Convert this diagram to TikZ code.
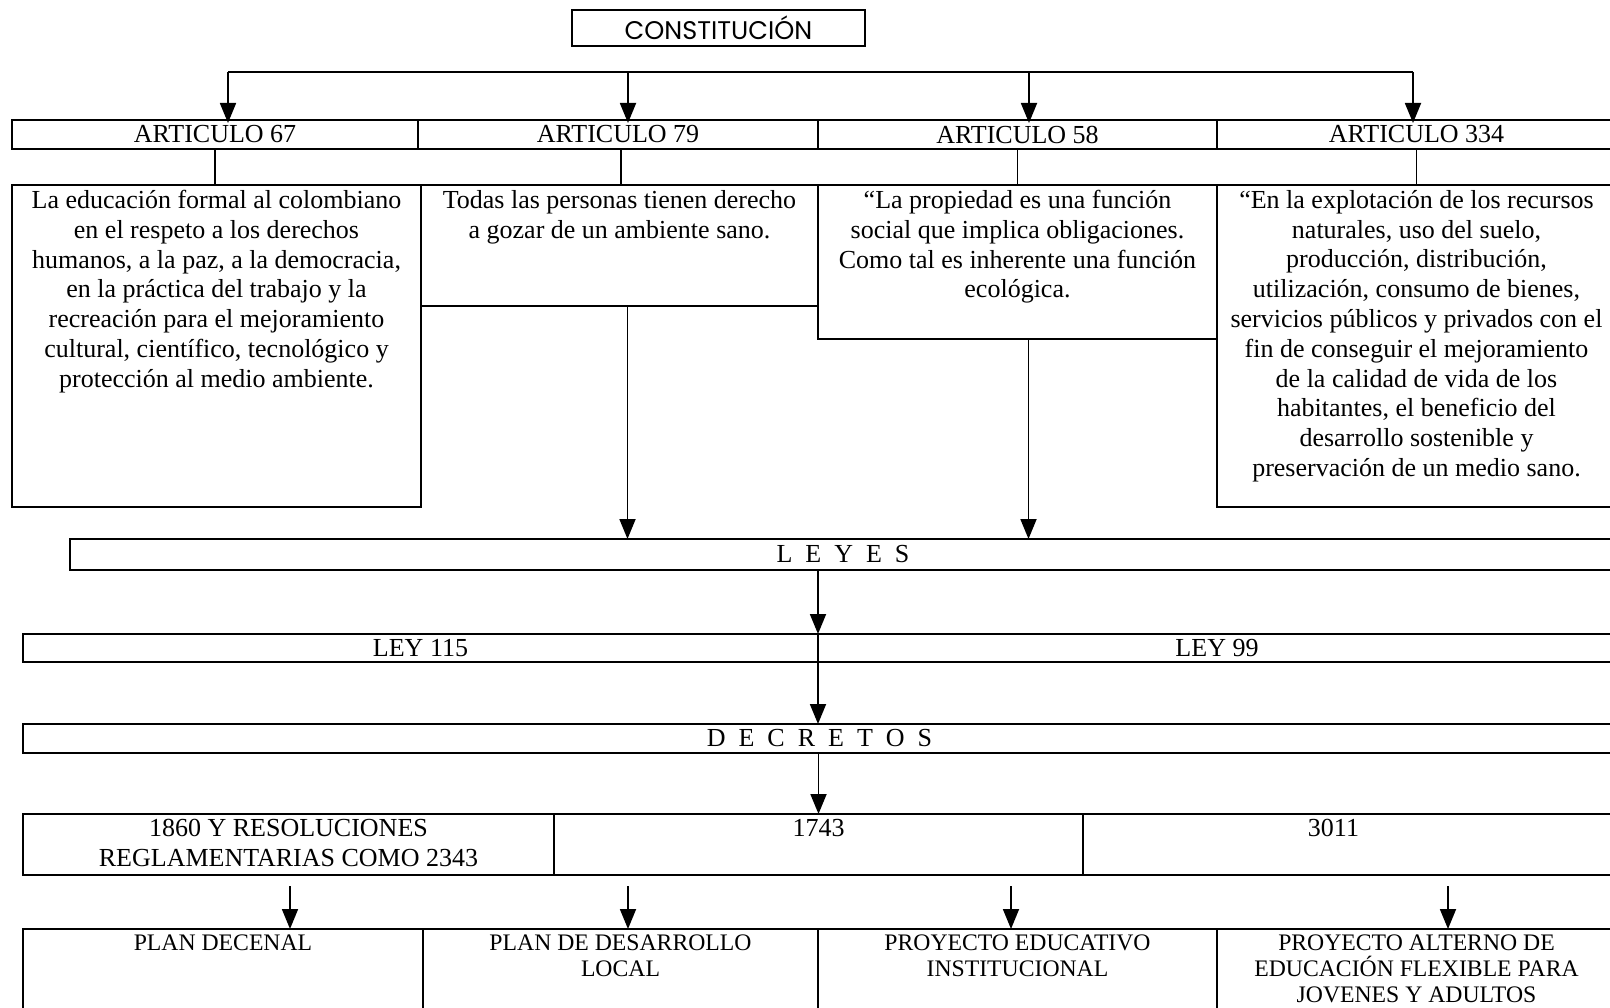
\documentclass[tikz,border=0pt]{standalone}
\usepackage{fontspec}
\setmainfont{Liberation Serif}
\newfontfamily\gothfont{Poppins}
\usetikzlibrary{positioning,arrows.meta}

\begin{document}
\begin{tikzpicture}[x=1pt, y=-1pt,
		cell/.style={draw, line width=1.8pt, inner sep=0pt, outer sep=0pt, anchor=north west, font=\fontsize{26}{29.8}\selectfont},
		txt/.style={align=center, inner sep=0pt, anchor=north, font=\fontsize{26}{29.8}\selectfont},
		captxt/.style={align=center, inner sep=0pt, anchor=north, font=\fontsize{23.7}{25.7}\selectfont},
		arr/.style={-{Triangle[width=16pt,length=20pt]}, line width=1.8pt},
		]
		\useasboundingbox (0,0) rectangle (1610,1008);
		\clip (0,0) rectangle (1610,1008);
		\fill[white] (0,0) rectangle (1610,1008);

		%Nodes
		\node[cell, minimum width=293pt, minimum height=36pt, font=\gothfont\fontsize{25.5}{28}\selectfont] (cons) at (572,10) {CONSTITUCIÓN};

		\node[cell, minimum width=406pt, minimum height=29pt]                     (a67)  at (12,120) {ARTICULO 67};
		\node[cell, minimum width=400pt, minimum height=29pt, right=0pt of a67]   (a79)  {ARTICULO 79};
		\node[cell, minimum width=399pt, minimum height=29pt, right=0pt of a79]   (a58)  {ARTICULO 58};
		\node[cell, minimum width=399pt, minimum height=29pt, right=0pt of a58]   (a334) {ARTICULO 334};

		\node[cell, minimum width=409pt, minimum height=322pt] (b67)  at (12,185) {};
		\node[cell, minimum width=397pt, minimum height=121pt] (b79)  at (b67.north east) {};
		\node[cell, minimum width=399pt, minimum height=154pt] (b58)  at (b79.north east) {};
		\node[cell, minimum width=399pt, minimum height=322pt] (b334) at (b58.north east) {};

		\node[txt] (t67) at ([yshift=-5pt]b67.north) {La educación formal al colombiano\\ en el respeto a los derechos\\ humanos, a la paz, a la democracia,\\ en la práctica del trabajo y la\\ recreación para el mejoramiento\\ cultural, científico, tecnológico y\\ protección al medio ambiente.};
		\node[txt] (t79) at ([yshift=-5pt]b79.north) {Todas las personas tienen derecho\\ a gozar de un ambiente sano.};
		\node[txt] (t58) at ([yshift=-5pt]b58.north) {“La propiedad es una función\\ social que implica obligaciones.\\ Como tal es inherente una función\\ ecológica.};
		\node[txt] (t334) at ([yshift=-5pt]b334.north) {“En la explotación de los recursos\\ naturales, uso del suelo,\\ producción, distribución,\\ utilización, consumo de bienes,\\ servicios públicos y privados con el\\ fin de conseguir el mejoramiento\\ de la calidad de vida de los\\ habitantes, el beneficio del\\ desarrollo sostenible y\\ preservación de un medio sano.};

		\node[cell, minimum width=1546pt, minimum height=31pt] (leyes) at (70,539) {L\ \ E\ \ Y\ \ E\ \ S};

		\node[cell, minimum width=795pt, minimum height=28pt]                      (ley115) at (23,634) {LEY 115};
		\node[cell, minimum width=798pt, minimum height=28pt, right=0pt of ley115] (ley99)  {LEY 99};

		\node[cell, minimum width=1593pt, minimum height=29pt] (decretos) at (23,724) {D\ \ E\ \ C\ \ R\ \ E\ \ T\ \ O\ \ S};

		\node[cell, minimum width=531pt, minimum height=61pt]                     (d1860) at (23,814) {};
		\node[cell, minimum width=529pt, minimum height=61pt, right=0pt of d1860] (d1743) {};
		\node[cell, minimum width=533pt, minimum height=61pt, right=0pt of d1743] (d3011) {};
		\node[txt] (t1860) at ([yshift=-5pt]d1860.north) {1860 Y RESOLUCIONES\\ REGLAMENTARIAS COMO 2343};
		\node[txt] (t1743) at ([yshift=-5pt]d1743.north) {1743};
		\node[txt] (t3011) at ([xshift=-16pt,yshift=-5pt]d3011.north) {3011};

		\node[cell, minimum width=400pt, minimum height=100pt] (plan) at (23,929) {};
		\node[cell, minimum width=395pt, minimum height=100pt] (pdl)  at (plan.north east) {};
		\node[cell, minimum width=399pt, minimum height=100pt] (pei)  at (pdl.north east) {};
		\node[cell, minimum width=399pt, minimum height=100pt] (pae)  at (pei.north east) {};
		\node[captxt] (tplan) at ([yshift=-6pt]plan.north) {PLAN DECENAL};
		\node[captxt] (tpdl)  at ([yshift=-6pt]pdl.north)  {PLAN DE DESARROLLO\\ LOCAL};
		\node[captxt] (tpei)  at ([yshift=-6pt]pei.north)  {PROYECTO EDUCATIVO\\ INSTITUCIONAL};
		\node[captxt] (tpae)  at ([yshift=-6pt]pae.north)  {PROYECTO ALTERNO DE\\ EDUCACIÓN FLEXIBLE PARA\\ JOVENES Y ADULTOS};

		\coordinate (bus67)  at (228,72);
		\coordinate (bus79)  at (628,72);
		\coordinate (bus58)  at (1029,72);
		\coordinate (bus334) at (1413,72);
		\coordinate (q1860)  at (290,886);
		\coordinate (q1743)  at (628,886);
		\coordinate (q2343)  at (1011,886);
		\coordinate (q3011)  at (1448,886);

		%Lines
		\draw[line width=1.8pt] (bus67) -- (bus334);
		\draw[arr, shorten >=-3pt] (bus67) -- (bus67 |- a67.north);
		\draw[arr, shorten >=-3pt] (bus79) -- (bus79 |- a79.north);
		\draw[arr, shorten >=-3pt] (bus58) -- (bus58 |- a58.north);
		\draw[arr, shorten >=-3pt] (bus334) -- (bus334 |- a334.north);

		\draw[line width=1.8pt] (a67.south) -- (a67.south |- b67.north);
		\draw[line width=1.8pt] ([xshift=3pt]a79.south) -- ([xshift=3pt]a79.south |- b79.north);
		\draw[line width=1.8pt] (a58.south) -- (a58.south |- b58.north);
		\draw[line width=1.8pt] (a334.south) -- (a334.south |- b334.north);

		\draw[arr] ([xshift=8pt]b79.south) -- ([xshift=8pt]b79.south |- leyes.north);
		\draw[arr] ([xshift=11pt]b58.south) -- ([xshift=11pt]b58.south |- leyes.north);
		\draw[arr] (leyes.south -| ley115.east) -- (ley115.north east);
		\draw[arr] (ley115.south east) -- (ley115.south east |- decretos.north);
		\draw[arr] (decretos.south -| d1743.north) -- (d1743.north);

		\draw[arr] (q1860) -- (q1860 |- plan.north);
		\draw[arr] (q1743) -- (q1743 |- pdl.north);
		\draw[arr] (q2343) -- (q2343 |- pei.north);
		\draw[arr] (q3011) -- (q3011 |- pae.north);
	\end{tikzpicture}
\end{document}
